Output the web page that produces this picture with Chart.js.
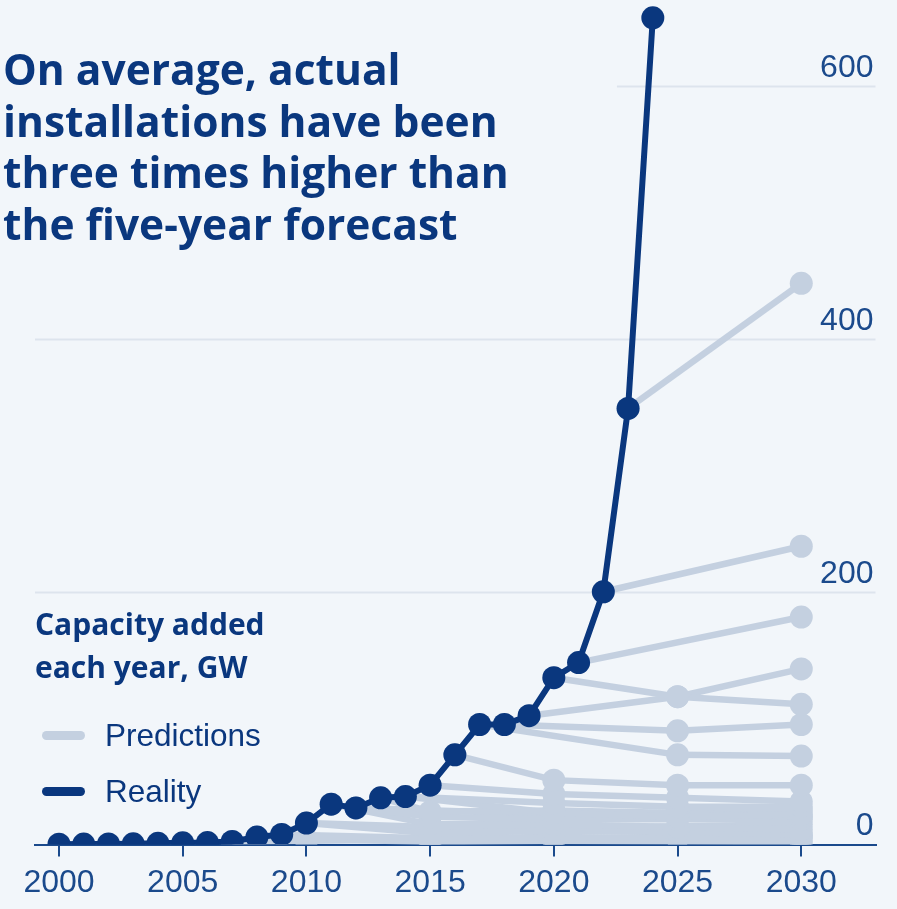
<!DOCTYPE html>
<html>
<head>
<meta charset="utf-8">
<script src="https://cdn.jsdelivr.net/npm/chart.js@4"></script>
<style>
  html, body { margin: 0; padding: 0; background: #f2f6fa; }
  #wrap { position: relative; width: 897px; height: 909px; overflow: hidden; }
  #chart { position: absolute; left: 0; top: 0; }
  .title { position: absolute; left: 3px; top: 43px; margin: 0; font: 700 42.5px/51.7px "Open Sans"; color: #0a377e; white-space: nowrap; }
  .leg-title { position: absolute; left: 35px; top: 602px; font: 700 30px/43px "Open Sans"; color: #0a377e; white-space: nowrap; }
  .leg-item { position: absolute; left: 105px; font: 31.5px/31.5px "Liberation Sans"; color: #0a377e; white-space: nowrap; }
  .swatch { position: absolute; left: 42px; width: 43px; height: 9px; border-radius: 5px; }
</style>
</head>
<body>
<div id="wrap">
  <canvas id="chart" width="897" height="909"></canvas>
  <div class="title">On average, actual<br>installations have been<br>three times higher than<br>the five-year forecast</div>
  <div class="leg-title">Capacity added<br>each year, GW</div>
  <div class="swatch" style="top:731px;background:#c4d0e0"></div>
  <div class="leg-item" style="top:720px">Predictions</div>
  <div class="swatch" style="top:787px;background:#0a377e"></div>
  <div class="leg-item" style="top:776px">Reality</div>
</div>
<script>
const NAVY = "#0a377e"
const LIGHT = "#c4d0e0"

// actual yearly additions, GW
const years = [2000, 2001, 2002, 2003, 2004, 2005, 2006, 2007, 2008, 2009, 2010, 2011, 2012,
  2013, 2014, 2015, 2016, 2017, 2018, 2019, 2020, 2021, 2022, 2023, 2024]
const reality = [0.3, 0.4, 0.5, 0.6, 1, 1.4, 1.6, 2.5, 6, 8, 17, 32, 29,
  37, 38, 47, 71, 95, 95, 102, 132, 144, 200, 345, 654]

// each forecast starts on the actual value of the year it was made
const forecastYears = [
  [2023, 2030],
  [2022, 2030],
  [2021, 2030],
  [2020, 2025, 2030],
  [2019, 2025, 2030],
  [2018, 2025, 2030],
  [2017, 2025, 2030],
  [2016, 2020, 2025, 2030],
  [2015, 2020, 2025, 2030],
  [2014, 2020, 2025, 2030],
  [2014, 2020, 2025, 2030],
  [2013, 2015, 2020, 2025, 2030],
  [2012, 2015, 2020, 2025, 2030],
  [2012, 2020, 2030],
  [2011, 2015, 2020, 2025, 2030],
  [2010, 2015, 2020, 2025, 2030],
  [2010, 2015, 2020, 2030],
  [2009, 2015, 2020, 2025, 2030],
  [2008, 2015, 2020, 2030],
  [2007, 2010, 2015, 2020, 2030]
]
const forecastValues = [
  [345, 444],
  [200, 236],
  [144, 180],
  [132, 117, 111],
  [102, 117, 139],
  [95, 90, 95],
  [95, 71, 70],
  [71, 51, 47, 47],
  [47, 40, 37, 34],
  [38, 33, 30, 30],
  [38, 25, 22, 24],
  [37, 26, 27, 25, 22],
  [29, 22, 20, 20, 20],
  [29, 24, 27],
  [32, 16, 16, 14, 12],
  [17, 9, 11, 10, 8],
  [17, 14, 13, 16],
  [8, 5, 6, 5, 5],
  [6, 2, 3, 2],
  [2.5, 3, 4, 5, 7]
]

const xTicks = [2000, 2005, 2010, 2015, 2020, 2025, 2030]
const yTicks = [0, 200, 400, 600]
const gridLines = [200, 400, 600]

const clipBottom = { left: false, top: false, right: false, bottom: 0 }

const datasets = [{
  label: "Reality",
  data: years.map((y, i) => ({ x: y, y: reality[i] })),
  borderColor: NAVY,
  backgroundColor: NAVY,
  borderWidth: 6,
  pointRadius: 11.5,
  pointBorderWidth: 0,
  pointBackgroundColor: NAVY,
  clip: clipBottom,
  order: 0
}]

forecastYears.forEach((yrs, k) => {
  datasets.push({
    label: "Prediction " + yrs[0],
    data: yrs.map((y, i) => ({ x: y, y: forecastValues[k][i] })),
    borderColor: LIGHT,
    backgroundColor: LIGHT,
    borderWidth: 6.5,
    pointRadius: 11.5,
    pointBorderWidth: 0,
    pointBackgroundColor: LIGHT,
    clip: clipBottom,
    order: 1
  })
})

// horizontal grid, the top line stops short of the headline
const gridPlugin = {
  id: "grid",
  beforeDatasetsDraw(chart) {
    const { ctx, chartArea, scales } = chart
    ctx.save()
    ctx.strokeStyle = "#dde4ed"
    ctx.lineWidth = 2
    gridLines.forEach(v => {
      const y = Math.round(scales.y.getPixelForValue(v)) + 0.5
      const x0 = v === 600 ? scales.x.getPixelForValue(2022.55) : chartArea.left
      ctx.beginPath()
      ctx.moveTo(x0, y)
      ctx.lineTo(chartArea.right, y)
      ctx.stroke()
    })
    ctx.restore()
  }
}

new Chart(document.getElementById("chart"), {
  type: "line",
  data: { datasets },
  plugins: [gridPlugin],
  options: {
    responsive: false,
    animation: false,
    layout: { padding: { left: 35, right: 17.5, top: 0, bottom: 0 } },
    plugins: { legend: { display: false }, tooltip: { enabled: false } },
    scales: {
      x: {
        type: "linear",
        min: 1999.03,
        max: 2033,
        afterBuildTicks: s => { s.ticks = xTicks.map(v => ({ value: v })) },
        grid: { display: true, drawOnChartArea: false, drawTicks: true, tickLength: 12, color: "#1b4a8c", lineWidth: 2 },
        border: { display: true, color: "#1b4a8c", width: 2 },
        ticks: {
          padding: 7,
          color: "#1b4a8c",
          font: { family: "Liberation Sans", size: 32 },
          maxRotation: 0,
          callback: v => String(v)
        }
      },
      y: {
        type: "linear",
        position: "right",
        min: 0,
        max: 654.5,
        afterBuildTicks: s => { s.ticks = yTicks.map(v => ({ value: v })) },
        grid: { display: false },
        border: { display: false },
        ticks: {
          mirror: true,
          padding: -2,
          labelOffset: -18,
          color: "#1b4a8c",
          font: { family: "Liberation Sans", size: 32 },
          callback: v => String(v)
        }
      }
    }
  }
})
</script>
</body>
</html>
